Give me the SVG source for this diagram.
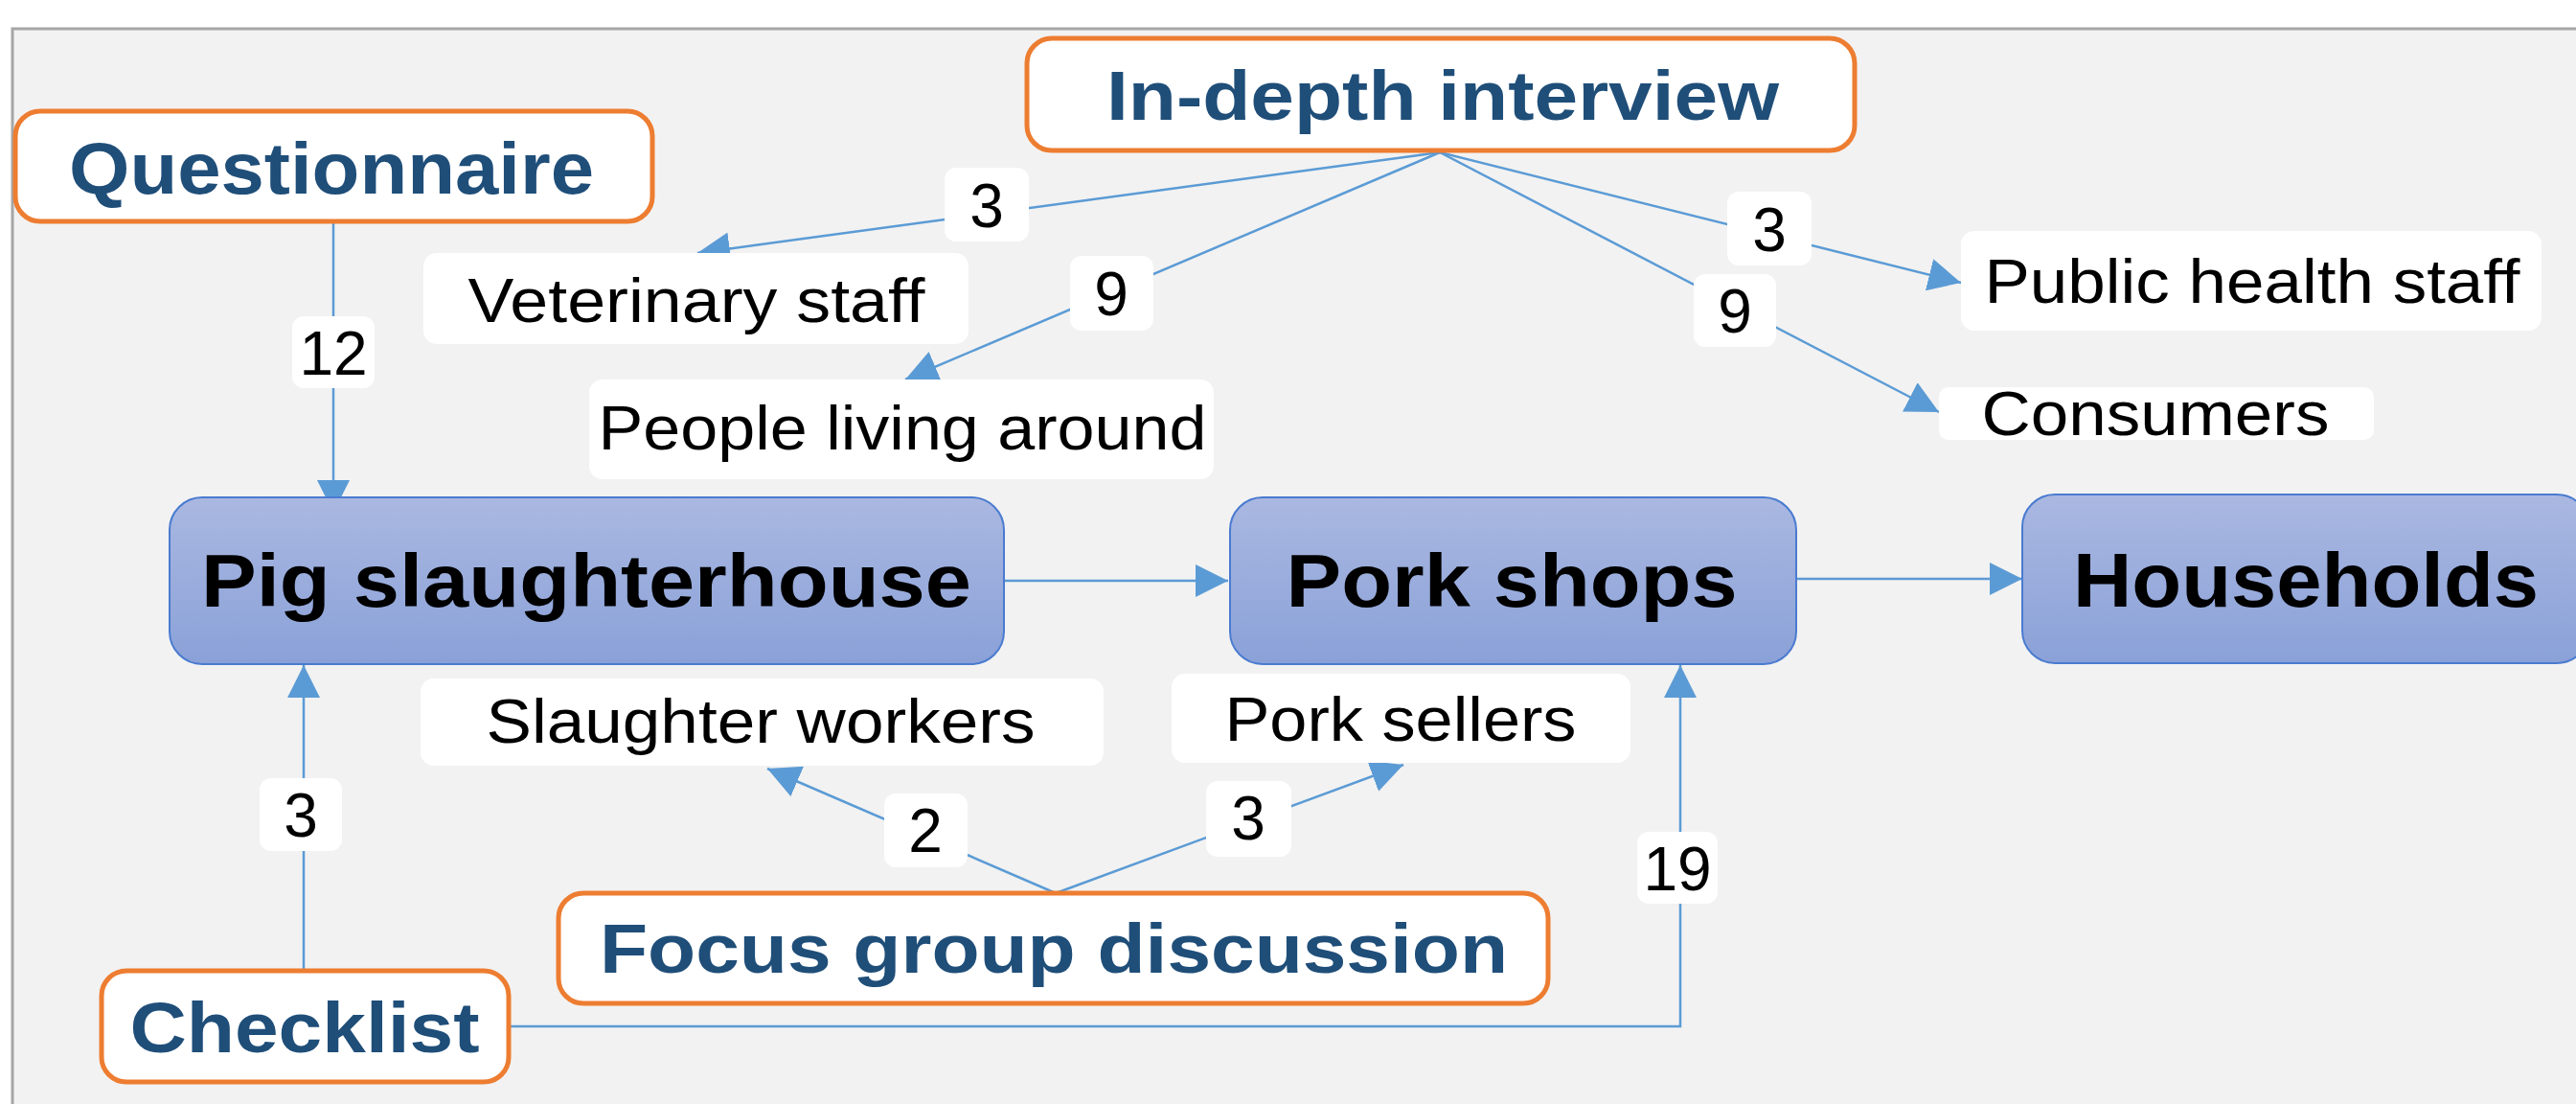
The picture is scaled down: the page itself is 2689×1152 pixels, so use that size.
<svg xmlns="http://www.w3.org/2000/svg" width="2689" height="1152" viewBox="0 0 2689 1152">
<defs>
<linearGradient id="blueGrad" x1="0" y1="0" x2="0" y2="1">
<stop offset="0" stop-color="#AAB8E1"/>
<stop offset="1" stop-color="#8AA1D8"/>
</linearGradient>
<marker id="arr" markerUnits="userSpaceOnUse" markerWidth="34" markerHeight="34" viewBox="0 0 32 32" refX="32" refY="16" orient="auto">
<path d="M0,0 L32,16 L0,32 Z" fill="#5B9BD5"/>
</marker>
<style>
.method rect{fill:#FFFFFF;stroke:#ED7D31;stroke-width:5}
.method text{font-family:"Liberation Sans",Arial,sans-serif;font-weight:bold;fill:#1F4E79;text-anchor:middle}
.stage rect{fill:url(#blueGrad);stroke:#4A7BD0;stroke-width:2}
.stage text{font-family:"Liberation Sans",Arial,sans-serif;font-weight:bold;fill:#000000;text-anchor:middle}
.who rect{fill:#FFFFFF}
.who text{font-family:"Liberation Sans",Arial,sans-serif;font-size:65px;fill:#000000;text-anchor:middle}
.num rect{fill:#FFFFFF}
.num text{font-family:"Liberation Sans",Arial,sans-serif;font-size:64px;fill:#000000;text-anchor:middle}
.conn{fill:none;stroke:#5B9BD5;stroke-width:2.5}
</style>
</defs>
<rect x="0" y="0" width="2689" height="1152" fill="#FFFFFF"/>
<rect x="13" y="30" width="2720" height="1180" fill="#F2F2F2" stroke="#A6A6A6" stroke-width="3"/>

<g id="connectors">
<path class="conn" d="M348,231 L348,535" marker-end="url(#arr)"/>
<path class="conn" d="M1503,159 L728,264" marker-end="url(#arr)"/>
<path class="conn" d="M1503,159 L945,396" marker-end="url(#arr)"/>
<path class="conn" d="M1503,159 L2047,295" marker-end="url(#arr)"/>
<path class="conn" d="M1503,159 L2024,430" marker-end="url(#arr)"/>
<path class="conn" d="M1048,606 L1282,606" marker-end="url(#arr)"/>
<path class="conn" d="M1875,604 L2111,604" marker-end="url(#arr)"/>
<path class="conn" d="M317,1013 L317,694" marker-end="url(#arr)"/>
<path class="conn" d="M531,1071 L1754,1071 L1754,694" marker-end="url(#arr)"/>
<path class="conn" d="M1102,932 L801,802" marker-end="url(#arr)"/>
<path class="conn" d="M1102,932 L1465,798" marker-end="url(#arr)"/>
</g>

<g id="edge-labels" class="num">
<g id="lbl-12"><rect x="305" y="330" width="86" height="75" rx="12"/><text x="348" y="391">12</text></g>
<g id="lbl-vet-3"><rect x="986" y="175" width="88" height="77" rx="12"/><text x="1030" y="237">3</text></g>
<g id="lbl-people-9"><rect x="1117" y="267" width="87" height="78" rx="12"/><text x="1160" y="329">9</text></g>
<g id="lbl-public-3"><rect x="1803" y="200" width="88" height="77" rx="12"/><text x="1847" y="262">3</text></g>
<g id="lbl-consumers-9"><rect x="1768" y="286" width="86" height="76" rx="12"/><text x="1811" y="347">9</text></g>
<g id="lbl-check-3"><rect x="271" y="812" width="86" height="76" rx="12"/><text x="314" y="873">3</text></g>
<g id="lbl-19"><rect x="1709" y="868" width="84" height="75" rx="12"/><text x="1751" y="929">19</text></g>
<g id="lbl-2"><rect x="923" y="828" width="87" height="77" rx="12"/><text x="966" y="889">2</text></g>
<g id="lbl-sellers-3"><rect x="1259" y="815" width="89" height="79" rx="12"/><text x="1303" y="876">3</text></g>
</g>

<g id="questionnaire" class="method"><rect x="16" y="116" width="665" height="115" rx="26"/><text x="346" y="202" font-size="76" textLength="548" lengthAdjust="spacingAndGlyphs">Questionnaire</text></g>
<g id="indepth" class="method"><rect x="1072" y="40" width="864" height="117" rx="26"/><text x="1506" y="125" font-size="73" textLength="702" lengthAdjust="spacingAndGlyphs">In-depth interview</text></g>
<g id="fgd" class="method"><rect x="583" y="932" width="1033" height="115" rx="26"/><text x="1100" y="1015" font-size="72" textLength="948" lengthAdjust="spacingAndGlyphs">Focus group discussion</text></g>
<g id="checklist" class="method"><rect x="106" y="1013" width="425" height="116" rx="26"/><text x="318" y="1098" font-size="75" textLength="365" lengthAdjust="spacingAndGlyphs">Checklist</text></g>

<g id="slaughterhouse" class="stage"><rect x="177" y="519" width="871" height="174" rx="34"/><text x="612" y="633" font-size="78" textLength="804" lengthAdjust="spacingAndGlyphs">Pig slaughterhouse</text></g>
<g id="porkshops" class="stage"><rect x="1284" y="519" width="591" height="174" rx="34"/><text x="1578" y="633" font-size="78" textLength="471" lengthAdjust="spacingAndGlyphs">Pork shops</text></g>
<g id="households" class="stage"><rect x="2111" y="516" width="592" height="176" rx="34"/><text x="2407" y="633" font-size="79" textLength="486" lengthAdjust="spacingAndGlyphs">Households</text></g>

<g id="veterinary" class="who"><rect x="442" y="264" width="569" height="95" rx="14"/><text x="727" y="336" textLength="477" lengthAdjust="spacingAndGlyphs">Veterinary staff</text></g>
<g id="people" class="who"><rect x="615" y="396" width="652" height="104" rx="14"/><text x="942" y="469" textLength="635" lengthAdjust="spacingAndGlyphs">People living around</text></g>
<g id="publichealth" class="who"><rect x="2047" y="241" width="606" height="104" rx="14"/><text x="2351" y="316" textLength="559" lengthAdjust="spacingAndGlyphs">Public health staff</text></g>
<g id="consumers" class="who"><rect x="2024" y="404" width="454" height="55" rx="10"/><text x="2250" y="454" textLength="363" lengthAdjust="spacingAndGlyphs">Consumers</text></g>
<g id="slaughterworkers" class="who"><rect x="439" y="708" width="713" height="91" rx="14"/><text x="794" y="775" textLength="573" lengthAdjust="spacingAndGlyphs">Slaughter workers</text></g>
<g id="porksellers" class="who"><rect x="1223" y="703" width="479" height="93" rx="14"/><text x="1462" y="773" textLength="367" lengthAdjust="spacingAndGlyphs">Pork sellers</text></g>
</svg>
